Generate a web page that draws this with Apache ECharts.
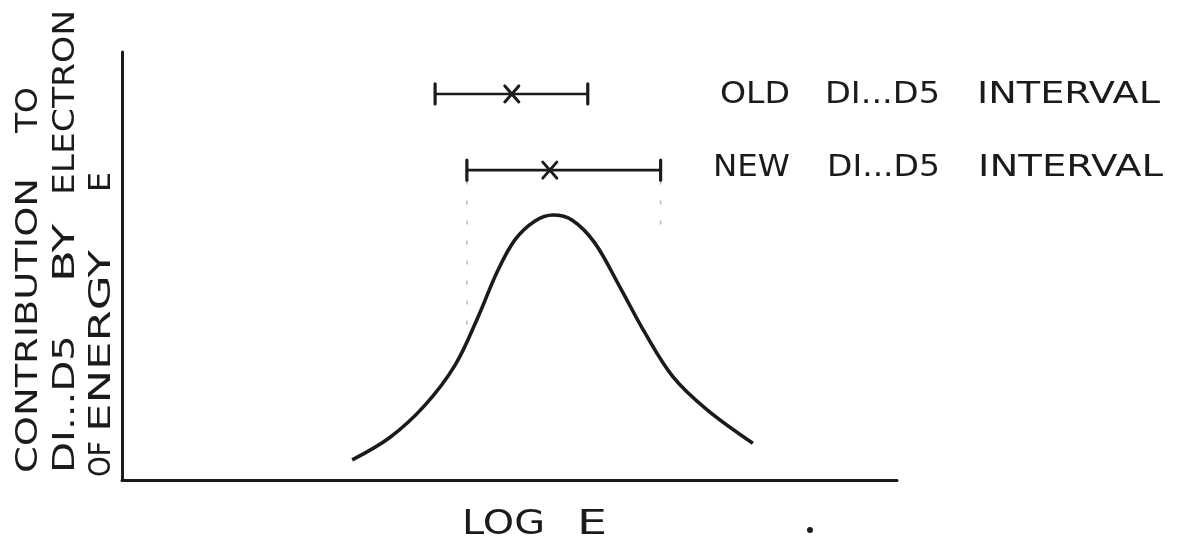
<!DOCTYPE html>
<html>
<head>
<meta charset="utf-8">
<title>Contribution to D1...D5 by electron energy</title>
<script src="https://cdn.jsdelivr.net/npm/echarts@6/dist/echarts.min.js"></script>
<style>
  html, body { margin: 0; padding: 0; background: #ffffff; }
  #chart { width: 1178px; height: 544px; }
</style>
</head>
<body>
<div id="chart"></div>
<script>
// Response curve: contribution to D1...D5 versus log E (arbitrary units, 0-100)
const curveX = [29.7, 34.6, 39.1, 43.0, 45.9, 48.4, 50.7, 53.3, 55.6, 58.1, 61.0, 64.3, 67.5, 71.1, 75.5, 81.4];
const curveY = [4.7, 10.0, 17.5, 26.9, 37.9, 48.6, 56.1, 60.5, 61.9, 60.7, 55.4, 44.9, 34.3, 24.1, 16.4, 8.6];

// D1...D5 intervals: low end, high end, centre, height of the bar
const intervalNames = ['OLD DI...D5 INTERVAL', 'NEW DI...D5 INTERVAL'];
const intervalLow = [40.4, 44.5];
const intervalHigh = [60.1, 69.5];
const intervalMid = [50.3, 55.2];
const intervalLevel = [90.2, 72.4];

// faint projection marks below the new interval ends: x, from y, to y
const guideX = [44.5, 69.5];
const guideTop = [70.0, 70.0];
const guideBottom = [36.0, 56.0];

// axis titles
const xTitle = 'LOG E';
const yTitleLines = ['CONTRIBUTION TO', 'DI...D5 BY ELECTRON', 'OF ENERGY E'];

const INK = '#1b1b1b';
const FONT = '"DejaVu Sans", "Liberation Sans", sans-serif';

const measureCtx = document.createElement('canvas').getContext('2d');
function naturalWidth(text, size) {
  measureCtx.font = size + 'px ' + FONT;
  return measureCtx.measureText(text).width;
}

// a hand-lettered word stretched along its baseline to fill the span [a, b];
// vertical words read upward from a
function word(text, size, a, b, cross, vertical) {
  const w = naturalWidth(text, size);
  const span = Math.abs(b - a);
  return {
    type: 'group',
    x: vertical ? cross : a,
    y: vertical ? a : cross,
    rotation: vertical ? Math.PI / 2 : 0,
    silent: true,
    children: [{
      type: 'text',
      x: 0, y: 0,
      scaleX: span / w,
      silent: true,
      style: {
        text: text,
        font: size + 'px ' + FONT,
        fill: INK,
        align: 'left',
        verticalAlign: 'middle',
        textAlign: 'left',
        textVerticalAlign: 'middle'
      }
    }]
  };
}

const graphics = [];

// vertical axis title: three columns reading upward, word by word
const yColumns = [29, 66, 102];
const ySpans = [
  [[473, 178], [133, 87]],
  [[473, 335], [282, 224], [195, 10]],
  [[477, 441], [432, 250], [192, 172]]
];
yTitleLines.forEach(function (line, i) {
  line.split(' ').forEach(function (t, j) {
    const s = ySpans[i][j];
    graphics.push(word(t, 30, s[0], s[1], yColumns[i], true));
  });
});

// interval captions to the right of the bars
const captionRows = [95, 168];
const captionSpans = [
  [[720, 790], [825, 940], [977, 1160]],
  [[713, 790], [827, 940], [978, 1163]]
];
intervalNames.forEach(function (line, i) {
  line.split(' ').forEach(function (t, j) {
    const s = captionSpans[i][j];
    graphics.push(word(t, 31, s[0], s[1], captionRows[i], false));
  });
});

// horizontal axis title
const xSpans = [[462, 545], [577, 607]];
xTitle.split(' ').forEach(function (t, j) {
  graphics.push(word(t, 34, xSpans[j][0], xSpans[j][1], 525, false));
});

// pen dot beside the axis title
graphics.push({
  type: 'circle', silent: true,
  shape: { cx: 810, cy: 530, r: 3 },
  style: { fill: INK }
});

const chart = echarts.init(document.getElementById('chart'), null, { renderer: 'canvas' });

const intervalData = intervalLow.map(function (lo, i) {
  return [lo, intervalHigh[i], intervalMid[i], intervalLevel[i]];
});
const guideData = guideX.map(function (x, i) {
  return [x, guideTop[i], guideBottom[i]];
});

chart.setOption({
  animation: false,
  backgroundColor: '#ffffff',
  grid: { left: 122, right: 281, top: 52, bottom: 64, containLabel: false },
  xAxis: {
    type: 'value', min: 0, max: 100,
    axisLine: { show: true, lineStyle: { color: INK, width: 3 } },
    axisTick: { show: false }, axisLabel: { show: false }, splitLine: { show: false }
  },
  yAxis: {
    type: 'value', min: 0, max: 100,
    axisLine: { show: true, lineStyle: { color: INK, width: 3 } },
    axisTick: { show: false }, axisLabel: { show: false }, splitLine: { show: false }
  },
  graphic: graphics,
  series: [
    {
      type: 'custom',
      name: 'guides',
      silent: true,
      data: guideData,
      encode: { x: 0, y: [1, 2] },
      renderItem: function (params, api) {
        const a = api.coord([api.value(0), api.value(1)]);
        const b = api.coord([api.value(0), api.value(2)]);
        return {
          type: 'line',
          shape: { x1: a[0], y1: a[1], x2: b[0], y2: b[1] },
          style: { stroke: '#bdbdbd', lineWidth: 1.6, lineDash: [4, 16] }
        };
      }
    },
    {
      type: 'line',
      name: 'contribution',
      data: curveX.map(function (x, i) { return [x, curveY[i]]; }),
      smooth: 0.35,
      showSymbol: false,
      lineStyle: { color: INK, width: 3.6 },
      silent: true
    },
    {
      type: 'custom',
      name: 'intervals',
      silent: true,
      data: intervalData,
      encode: { x: [0, 1, 2], y: 3 },
      renderItem: function (params, api) {
        const p1 = api.coord([api.value(0), api.value(3)]);
        const p2 = api.coord([api.value(1), api.value(3)]);
        const pc = api.coord([api.value(2), api.value(3)]);
        const cap = 10, cx = 7, cy = 8;
        function seg(x1, y1, x2, y2, w) {
          return { type: 'line', shape: { x1: x1, y1: y1, x2: x2, y2: y2 },
                   style: { stroke: INK, lineWidth: w, lineCap: 'round' } };
        }
        return {
          type: 'group',
          children: [
            seg(p1[0], p1[1], p2[0], p2[1], 2.6),
            seg(p1[0], p1[1] - cap, p1[0], p1[1] + cap, 3.2),
            seg(p2[0], p2[1] - cap, p2[0], p2[1] + cap, 3.2),
            seg(pc[0] - cx, pc[1] - cy, pc[0] + cx, pc[1] + cy, 3),
            seg(pc[0] - cx, pc[1] + cy, pc[0] + cx, pc[1] - cy, 3)
          ]
        };
      }
    }
  ]
});
</script>
</body>
</html>
